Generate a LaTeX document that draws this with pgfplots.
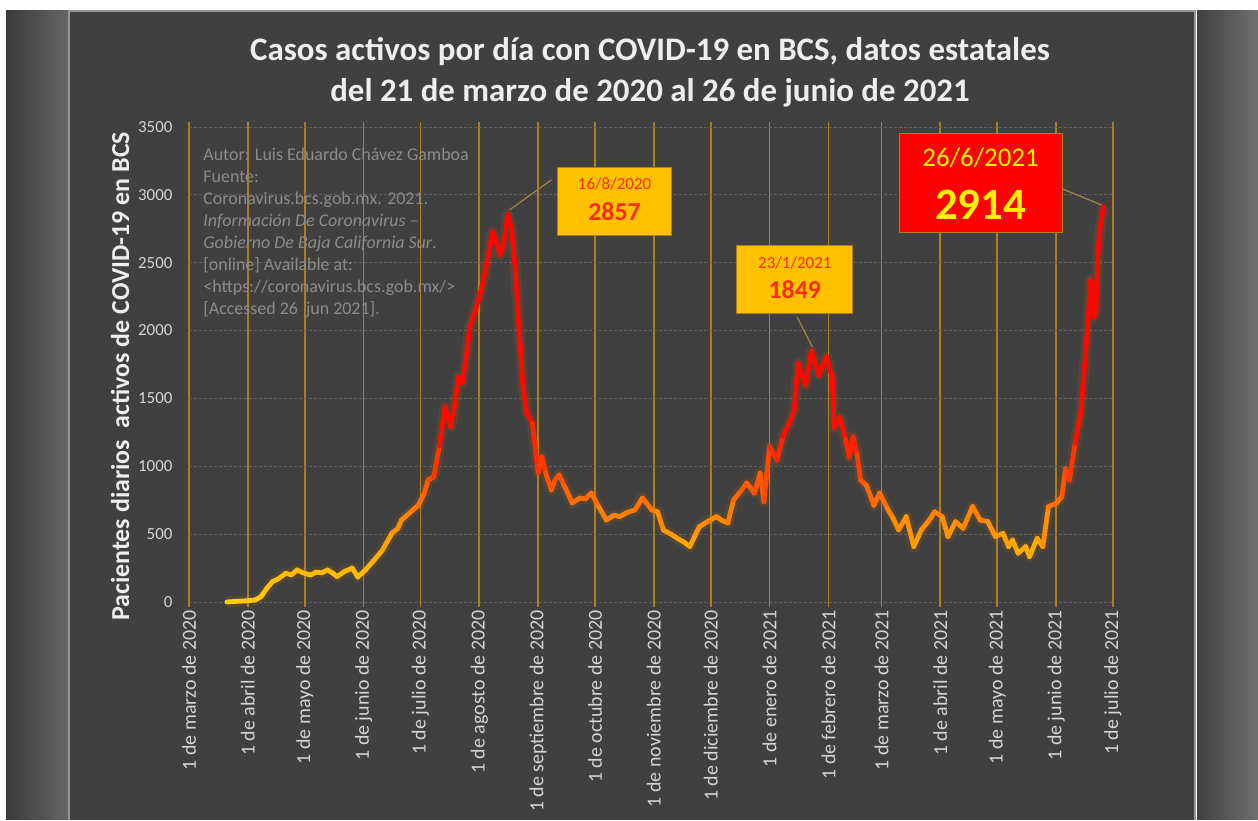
\documentclass[border=0pt]{standalone}
\usepackage{pgfplots}
\usepackage{pgfplotstable}
\pgfplotsset{compat=1.18}
\usepackage{fontspec}
\setmainfont{Carlito}
\definecolor{bg}{RGB}{64,64,64}
\definecolor{gridgold}{RGB}{172,126,28}
\definecolor{hgrid}{RGB}{98,98,98}
\definecolor{ticktext}{RGB}{212,212,212}
\definecolor{titletext}{RGB}{238,238,238}
\definecolor{notetext}{RGB}{140,140,140}
\definecolor{boxgold}{RGB}{255,192,0}
\definecolor{boxtext}{RGB}{240,50,16}
\definecolor{leader}{RGB}{160,135,70}
\definecolor{framegray}{RGB}{150,150,150}

\pgfplotstableread{
day casos
20 0
25 5
30 8
35 15
38 40
41 100
44 150
47 170
51 211
54 200
57 236
60 215
64 199
67 220
70 215
73 236
76 210
78 187
82 225
86 250
89 184
93 236
97 300
102 383
107 508
110 540
112 604
115 640
118 678
121 715
124 800
126 899
129 921
132 1150
135 1439
138 1292
140 1450
142 1660
144 1614
146 1800
148 2029
151 2152
154 2299
157 2497
160 2729
162 2650
164 2557
166 2650
168 2857
170 2750
172 2447
174 2000
176 1587
178 1392
181 1318
184 950
186 1071
188 950
191 825
193 900
195 936
198 850
202 730
206 766
209 760
212 803
216 700
220 604
224 640
227 629
231 660
235 678
239 766
244 678
247 665
250 531
254 500
257 472
261 440
264 408
267 500
269 555
273 590
278 629
281 600
284 582
287 752
291 820
294 877
298 803
301 950
303 739
306 1144
310 1046
313 1218
317 1341
319 1415
321 1760
325 1599
328 1849
332 1670
336 1808
338 1700
339 1660
340 1286
343 1360
346 1200
348 1066
350 1218
352 1095
354 897
357 860
361 712
364 803
368 690
371 620
374 531
378 629
382 408
386 531
390 600
393 665
397 629
400 481
404 592
408 543
413 703
417 604
421 592
425 481
429 506
432 408
434 457
437 359
441 408
443 334
447 469
450 408
453 703
457 727
460 776
462 984
464 897
467 1169
470 1392
472 1734
474 2100
475 2373
476 2350
477 2100
478 2150
479 2550
480 2740
481 2830
482 2914
}\casos

\begin{document}
\begin{tikzpicture}[x=1bp,y=1bp]
% background and frame
\fill[white] (0,0) rectangle (1258,820);
\shade[left color=bg!90!black, right color=bg!80!white] (6,0) rectangle (69,809);
\fill[bg] (69,0) rectangle (1195,809);
\shade[left color=bg, right color=bg!75!white] (1197,0) rectangle (1258,809);
\draw[framegray, line width=1.5bp] (69,0) -- (69,809) -- (1195,809) -- (1195,0);

% title
\node[text=titletext, font=\fontsize{33}{36}\selectfont\bfseries] at (650,768) {Casos activos por día con COVID-19 en BCS, datos estatales};
\node[text=titletext, font=\fontsize{33}{36}\selectfont\bfseries] at (650,727) {del 21 de marzo de 2020 al 26 de junio de 2021};

\begin{axis}[
  at={(189bp,218bp)}, anchor=south west,
  scale only axis, width=924bp, height=475bp,
  xmin=0, xmax=487, ymin=0, ymax=3500,
  clip=false,
  axis line style={draw=none},
  xtick={0,31,61,92,122,153,184,214,245,275,306,337,365,396,426,457,487},
  xticklabels={1 de marzo de 2020,1 de abril de 2020,1 de mayo de 2020,1 de junio de 2020,1 de julio de 2020,1 de agosto de 2020,1 de septiembre de 2020,1 de octubre de 2020,1 de noviembre de 2020,1 de diciembre de 2020,1 de enero de 2021,1 de febrero de 2021,1 de marzo de 2021,1 de abril de 2021,1 de mayo de 2021,1 de junio de 2021,1 de julio de 2021},
  ytick={0,500,...,3500},
  xmajorgrids, ymajorgrids,
  x grid style={gridgold, line width=1.8bp},
  y grid style={hgrid, line width=0.9bp, dash pattern=on 3bp off 2bp},
  tick align=outside,
  major tick length=5bp,
  xtick style={gridgold, line width=1.8bp},
  ytick style={draw=none},
  /pgf/number format/assume math mode=true,
  /pgf/number format/1000 sep={},
  xticklabel style={rotate=90, anchor=east, text=ticktext, font=\fontsize{20}{22}\selectfont},
  yticklabel style={text=ticktext, font=\fontsize{17}{19}\selectfont, xshift=-8bp},
  ylabel={Pacientes diarios\ \ activos de COVID-19 en BCS},
  ylabel style={text=titletext, font=\fontsize{26}{28}\selectfont\bfseries, at={(ticklabel cs:0.475)}, yshift=2bp},
  colormap={fire}{rgb255(0pt)=(255,205,0) rgb255(4pt)=(255,170,0) rgb255(7pt)=(255,120,0) rgb255(10pt)=(255,60,0) rgb255(13pt)=(255,10,0) rgb255(35pt)=(255,0,0)},
  point meta min=0, point meta max=3500,
]
\addplot[color=orange, opacity=0.1, line width=11bp, line join=round] table[x=day, y=casos] {\casos};
\addplot[mesh, point meta=y, line width=4.8bp, line cap=round, line join=round] table[x=day, y=casos] {\casos};

% source note
\node[anchor=north west, align=left, text=notetext, font=\fontsize{18}{22}\selectfont, inner sep=0pt] at (axis cs:7.5,3345) {Autor: Luis Eduardo Chávez Gamboa\\Fuente:\\Coronavirus.bcs.gob.mx. 2021.\\\textit{Información De Coronavirus –}\\\textit{Gobierno De Baja California Sur}.\\{[online]} Available at:\\<https://coronavirus.bcs.gob.mx/>\\{[Accessed 26\ \ jun 2021].}};

% callout 1
\draw[leader, line width=1.2bp] (axis cs:169,2890) -- (axis cs:191,3110);
\node[fill=boxgold, draw=gridgold, line width=0.8bp, minimum width=114bp, minimum height=68bp, inner sep=0pt] at (axis cs:224.3,2955) {};
\node[text=boxtext, font=\fontsize{17}{19}\selectfont, yshift=17bp] at (axis cs:224.3,2955) {16/8/2020};
\node[text=boxtext, font=\fontsize{26}{28}\selectfont\bfseries, yshift=-11bp] at (axis cs:224.3,2955) {2857};

% callout 2
\draw[leader, line width=1.2bp] (axis cs:328.5,1880) -- (axis cs:320.5,2100);
\node[fill=boxgold, draw=gridgold, line width=0.8bp, minimum width=116bp, minimum height=68bp, inner sep=0pt] at (axis cs:319.3,2380) {};
\node[text=boxtext, font=\fontsize{17}{19}\selectfont, yshift=16bp] at (axis cs:319.3,2380) {23/1/2021};
\node[text=boxtext, font=\fontsize{26}{28}\selectfont\bfseries, yshift=-11bp] at (axis cs:319.3,2380) {1849};

% callout 3
\draw[leader, line width=1.2bp] (axis cs:481,2925) -- (axis cs:459,3051);
\node[fill=red, draw=gridgold, line width=0.8bp, minimum width=163bp, minimum height=99bp, inner sep=0pt] at (axis cs:417.2,3091) {};
\node[text=yellow, font=\fontsize{27}{30}\selectfont, yshift=24.5bp] at (axis cs:417.2,3091) {26/6/2021};
\node[text=yellow, font=\fontsize{45}{48}\selectfont\bfseries, yshift=-22.5bp] at (axis cs:417.2,3091) {2914};
\end{axis}
\end{tikzpicture}
\end{document}
